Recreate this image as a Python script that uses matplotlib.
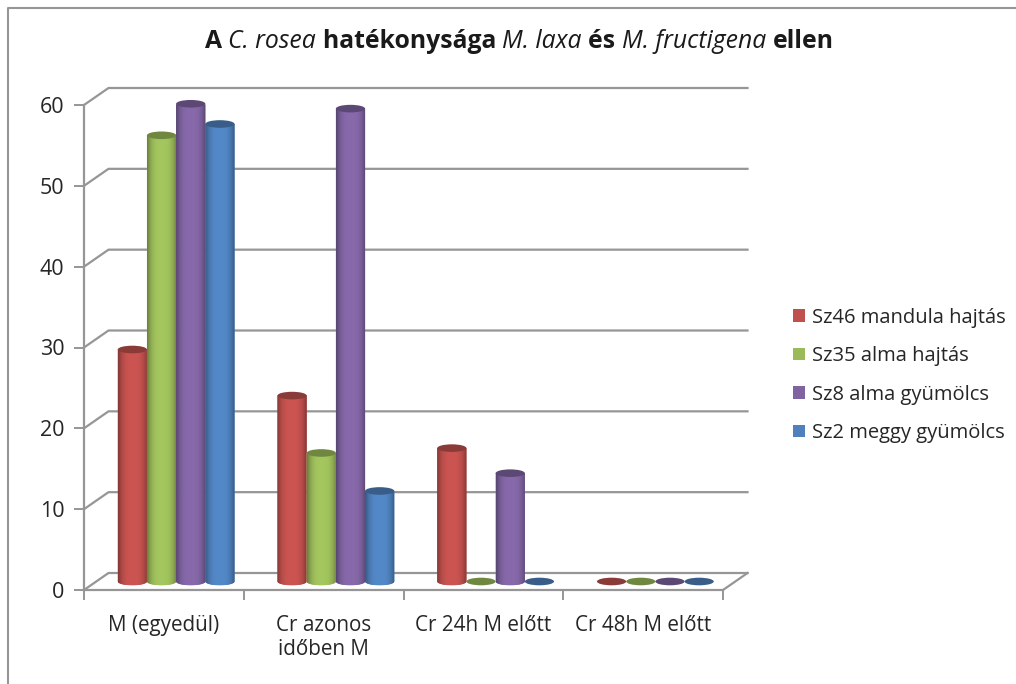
import matplotlib
matplotlib.use("Agg")
import matplotlib.pyplot as plt
import numpy as np
from matplotlib.patches import Patch, PathPatch, Ellipse
from matplotlib.path import Path
from matplotlib.colors import to_rgb

plt.rcParams['font.family'] = ['Open Sans', 'DejaVu Sans']

categories = ['M (egyedül)', 'Cr azonos\nidőben M', 'Cr 24h M előtt', 'Cr 48h M előtt']
series_names = ['Sz46 mandula hajtás', 'Sz35 alma hajtás', 'Sz8 alma gyümölcs', 'Sz2 meggy gyümölcs']
sz46 = [28.7, 23.0, 16.5, 0]
sz35 = [55.2, 15.9, 0, 0]
sz8 = [59.1, 58.5, 13.4, 0]
sz2 = [56.6, 11.2, 0, 0]
colors = ['#C0504D', '#9BBB59', '#8064A2', '#4F81BD']
yticks = [0, 10, 20, 30, 40, 50, 60]

W, H = 1016, 684
GRID = '#969696'
TXT = '#262626'

fig = plt.figure(figsize=(W / 100, H / 100), dpi=100)
# front plane of the fake 3d box
ax = fig.add_axes([84 / W, 1 - 590 / H, 639 / W, 485 / H])
ax.set_xlim(0, 4)
ax.set_ylim(0, 60)
ax.patch.set_alpha(0)

px_x = 4 / 639
px_y = 60 / 485
dx = 24.5 * px_x
dy = 17 * px_y

# back wall and side wall
for v in yticks:
    ax.plot([0, dx, 4 + dx], [v, v + dy, v + dy], color=GRID, lw=1.6, clip_on=False, zorder=1)
ax.plot([4, 4 + dx], [0, dy], color=GRID, lw=1.6, clip_on=False, zorder=1)

for s in ['top', 'right']:
    ax.spines[s].set_visible(False)
for s in ['left', 'bottom']:
    ax.spines[s].set_color(GRID)
    ax.spines[s].set_linewidth(1.6)
    ax.spines[s].set_zorder(2)

ax.set_yticks(yticks)
ax.tick_params(axis='y', length=7, width=1.4, color=GRID, pad=7, labelsize=15.5, labelcolor=TXT)
ax.set_xticks(np.arange(4) + 0.5)
ax.set_xticklabels(categories, linespacing=1.16)
ax.tick_params(axis='x', which='major', length=0, pad=18, labelsize=14.9, labelcolor=TXT)
ax.set_xticks(np.arange(5), minor=True)
ax.tick_params(axis='x', which='minor', length=7, width=1.4, color=GRID)


def shade(c):
    # dark at the edges, lighter through the middle of the cylinder
    t = np.linspace(-1, 1, 64)
    k = 0.68 + 0.38 * (1 - np.abs(t) ** 3)
    rgb = np.array(to_rgb(c))
    return np.clip(k[None, :, None] * rgb, 0, 1)


bar_w = 29.2 * px_x
rx = bar_w / 2
ry = 3.8 * px_y
base = 8.5 * px_y
series = [sz46, sz35, sz8, sz2]

for i, (vals, c) in enumerate(zip(series, colors)):
    for j, v in enumerate(vals):
        xc = j + 0.5 + dx / 2 + (i - 1.5) * bar_w
        top = base + v
        z = 5 + i * 0.1
        if v > 0:
            th = np.linspace(np.pi, 2 * np.pi, 30)
            xs = xc + rx * np.cos(th)
            ys = base + ry * np.sin(th)
            verts = np.column_stack([np.r_[xs, xc + rx, xc - rx, xc - rx],
                                     np.r_[ys, top, top, ys[0]]])
            codes = [Path.MOVETO] + [Path.LINETO] * (len(verts) - 2) + [Path.CLOSEPOLY]
            body = PathPatch(Path(verts, codes), fc=c, ec='none', clip_on=False, zorder=z)
            ax.add_patch(body)
            im = ax.imshow(shade(c), extent=[xc - rx, xc + rx, base - ry, top], aspect='auto',
                           zorder=z, interpolation='bilinear', clip_on=True)
            im.set_clip_path(body)
        lid = np.array(to_rgb(c)) * 0.72
        ax.add_patch(Ellipse((xc, top), bar_w, 2 * ry, fc=lid, ec='none', clip_on=False, zorder=z + 0.01))

ax.set_xlim(0, 4)
ax.set_ylim(0, 60)

# outer chart frame, cut by the image edge
fig.add_artist(plt.Line2D([8 / W, 8 / W, 1], [0, 1 - 8 / H, 1 - 8 / H], color=GRID, lw=1.5))

# title, bold and italic pieces set one after the other
pieces = [('A ', 'bold', 'normal'), ('C. rosea ', 'normal', 'italic'), ('hatékonysága ', 'bold', 'normal'),
          ('M. laxa ', 'normal', 'italic'), ('és ', 'bold', 'normal'), ('M. fructigena ', 'normal', 'italic'),
          ('ellen', 'bold', 'normal')]
rend = fig.canvas.get_renderer()
x = 205
for s, w, st in pieces:
    t = fig.text(x / W, 1 - 41 / H, s.replace(' ', '\u00a0'), fontsize=17.8, fontweight=w, fontstyle=st,
                 color='#1a1a1a', va='center', ha='left')
    x += t.get_window_extent(rend).width

handles = [Patch(fc=c, ec='none') for c in colors]
fig.legend(handles, series_names, loc='upper left', bbox_to_anchor=(793 / W, 1 - 307.5 / H), frameon=False,
           fontsize=14.5, labelcolor=TXT, handlelength=0.6, handleheight=0.6, handletextpad=0.35,
           labelspacing=0.92, borderpad=0, borderaxespad=0)

fig.savefig('out.png', dpi=100)
